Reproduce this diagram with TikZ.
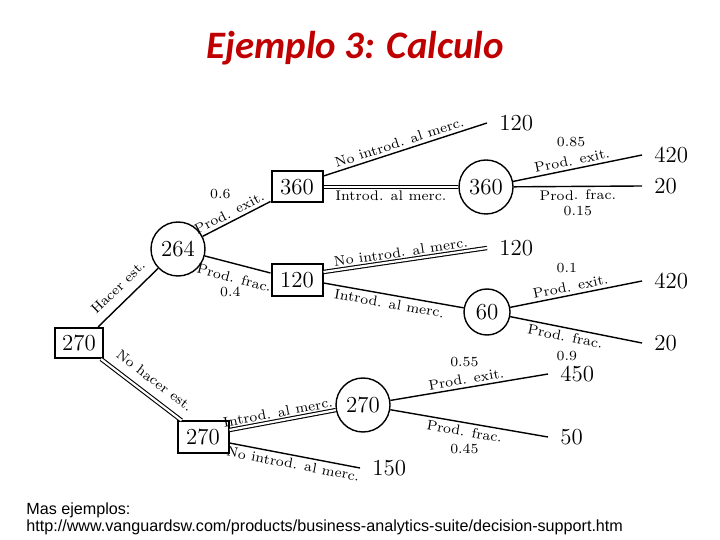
\documentclass[tikz,border=0pt]{standalone}
\usepackage{fontspec}
\newfontfamily\titlefont{Carlito}
\newfontfamily\footfont{Liberation Sans}
\definecolor{titlered}{RGB}{192,0,0}
\begin{document}
\begin{tikzpicture}[x=0.5bp,y=-0.5bp,
  box/.style={draw,line width=1bp,minimum width=25.5bp,minimum height=15.5bp,inner sep=1bp,font=\fontsize{11.5}{12}\selectfont},
  chance/.style={draw,circle,line width=0.7bp,minimum size=27bp,inner sep=1bp,font=\fontsize{11.5}{12}\selectfont},
  term/.style={anchor=west,inner xsep=6bp,inner ysep=1bp,font=\fontsize{11.5}{12}\selectfont},
  edge/.style={line width=0.7bp},
  dbl/.style={double,line width=0.55bp,double distance=1.1bp},
  lbl/.style={font=\fontsize{7}{8}\selectfont,sloped,inner sep=1.5bp},
  prob/.style={font=\fontsize{7}{8}\selectfont,inner sep=0pt},
]
\useasboundingbox[fill=white] (0,0) rectangle (720,540);

% title
\node[font=\titlefont\bfseries\itshape\fontsize{19.5}{22}\selectfont,text=titlered,anchor=base] (title) at (355,59) {Ejemplo 3: Calculo};

% decision / chance nodes
\node[box,minimum width=24bp,minimum height=15bp] (root) at (79,343) {270};
\node[chance] (c264) at (178,249) {264};
\node[box] (b360) at (297,187) {360};
\node[box,minimum height=16bp] (b120) at (297,280) {120};
\node[chance] (c360) at (486,187) {360};
\node[chance,minimum size=23bp] (c60) at (487,312) {60};
\node[box] (b270) at (203,437) {270};
\node[chance] (c270) at (363,405) {270};

% terminal values
\node[term] (t1) at (487,123) {120};
\node[term] (t2) at (642,155) {420};
\node[term] (t3) at (642,186) {20};
\node[term] (t4) at (487,248) {120};
\node[term] (t5) at (642,281) {420};
\node[term] (t6) at (642,343) {20};
\node[term] (t7) at (548,374) {450};
\node[term] (t8) at (548,437) {50};
\node[term] (t9) at (360,468) {150};

% connectors
\draw[edge] ([xshift=-3bp]root.north east) -- node[lbl,above=3bp,pos=0.5]{Hacer est.} (c264);
\draw[dbl] ([xshift=-1.5bp]root.south east) -- node[lbl,above=3.5bp,pos=0.55]{No hacer est.} ([xshift=2.5bp]b270.north west);

\draw[edge] (c264) -- node[lbl,above,pos=0.45]{Prod. exit.} node[prob,pos=0.26,yshift=16.5bp]{0.6} ([yshift=1bp]b360.south west);
\draw[edge] (c264) -- node[lbl,below=2.5bp,pos=0.5]{Prod. frac.} node[prob,pos=0.39,yshift=-14.8bp]{0.4} ([yshift=3.5bp]b120.west);

\draw[edge] ([yshift=5.5bp]b360.east) -- node[lbl,above,pos=0.48]{No introd. al merc.} (t1.west);
\draw[dbl] (b360.east) -- node[lbl,below,pos=0.5]{Introd. al merc.} (c360);

\draw[edge] (c360) -- node[lbl,above,pos=0.47]{Prod. exit.} node[prob,pos=0.45,yshift=13.75bp]{0.85} (t2.west);
\draw[edge] (c360) -- node[lbl,below,pos=0.5]{Prod. frac.} node[prob,pos=0.5,yshift=-12.5bp]{0.15} (t3.west);

\draw[dbl] ([yshift=4bp]b120.east) -- node[lbl,above,pos=0.48]{No introd. al merc.} (t4.west);
\draw[edge] ([yshift=-1.5bp]b120.east) -- node[lbl,below,pos=0.48]{Introd. al merc.} (c60);

\draw[edge] (c60) -- node[lbl,above,pos=0.47]{Prod. exit.} node[prob,pos=0.43,yshift=14bp]{0.1} (t5.west);
\draw[edge] (c60) -- node[lbl,below,pos=0.43]{Prod. frac.} node[prob,pos=0.43,yshift=-14bp]{0.9} (t6.west);

\draw[dbl] ([yshift=3.5bp]b270.east) -- node[lbl,above,pos=0.47]{Introd. al merc.} (c270);
\draw[edge] ([yshift=-3bp]b270.east) -- node[lbl,below,pos=0.5]{No introd. al merc.} (t9.west);

\draw[edge] (c270) -- node[lbl,above,pos=0.49]{Prod. exit.} node[prob,pos=0.47,yshift=13bp]{0.55} (t7.west);
\draw[edge] (c270) -- node[lbl,below,pos=0.48]{Prod. frac.} node[prob,pos=0.47,yshift=-13.25bp]{0.45} (t8.west);

% footer
\node[font=\footfont\fontsize{8.1}{8.5}\selectfont,anchor=base west,inner sep=0pt] (f1) at (26,514) {Mas ejemplos:};
\node[font=\footfont\fontsize{8.1}{8.5}\selectfont,anchor=base west,inner sep=0pt] (f2) at (26,531) {http://www.vanguardsw.com/products/business-analytics-suite/decision-support.htm};
\end{tikzpicture}
\end{document}
